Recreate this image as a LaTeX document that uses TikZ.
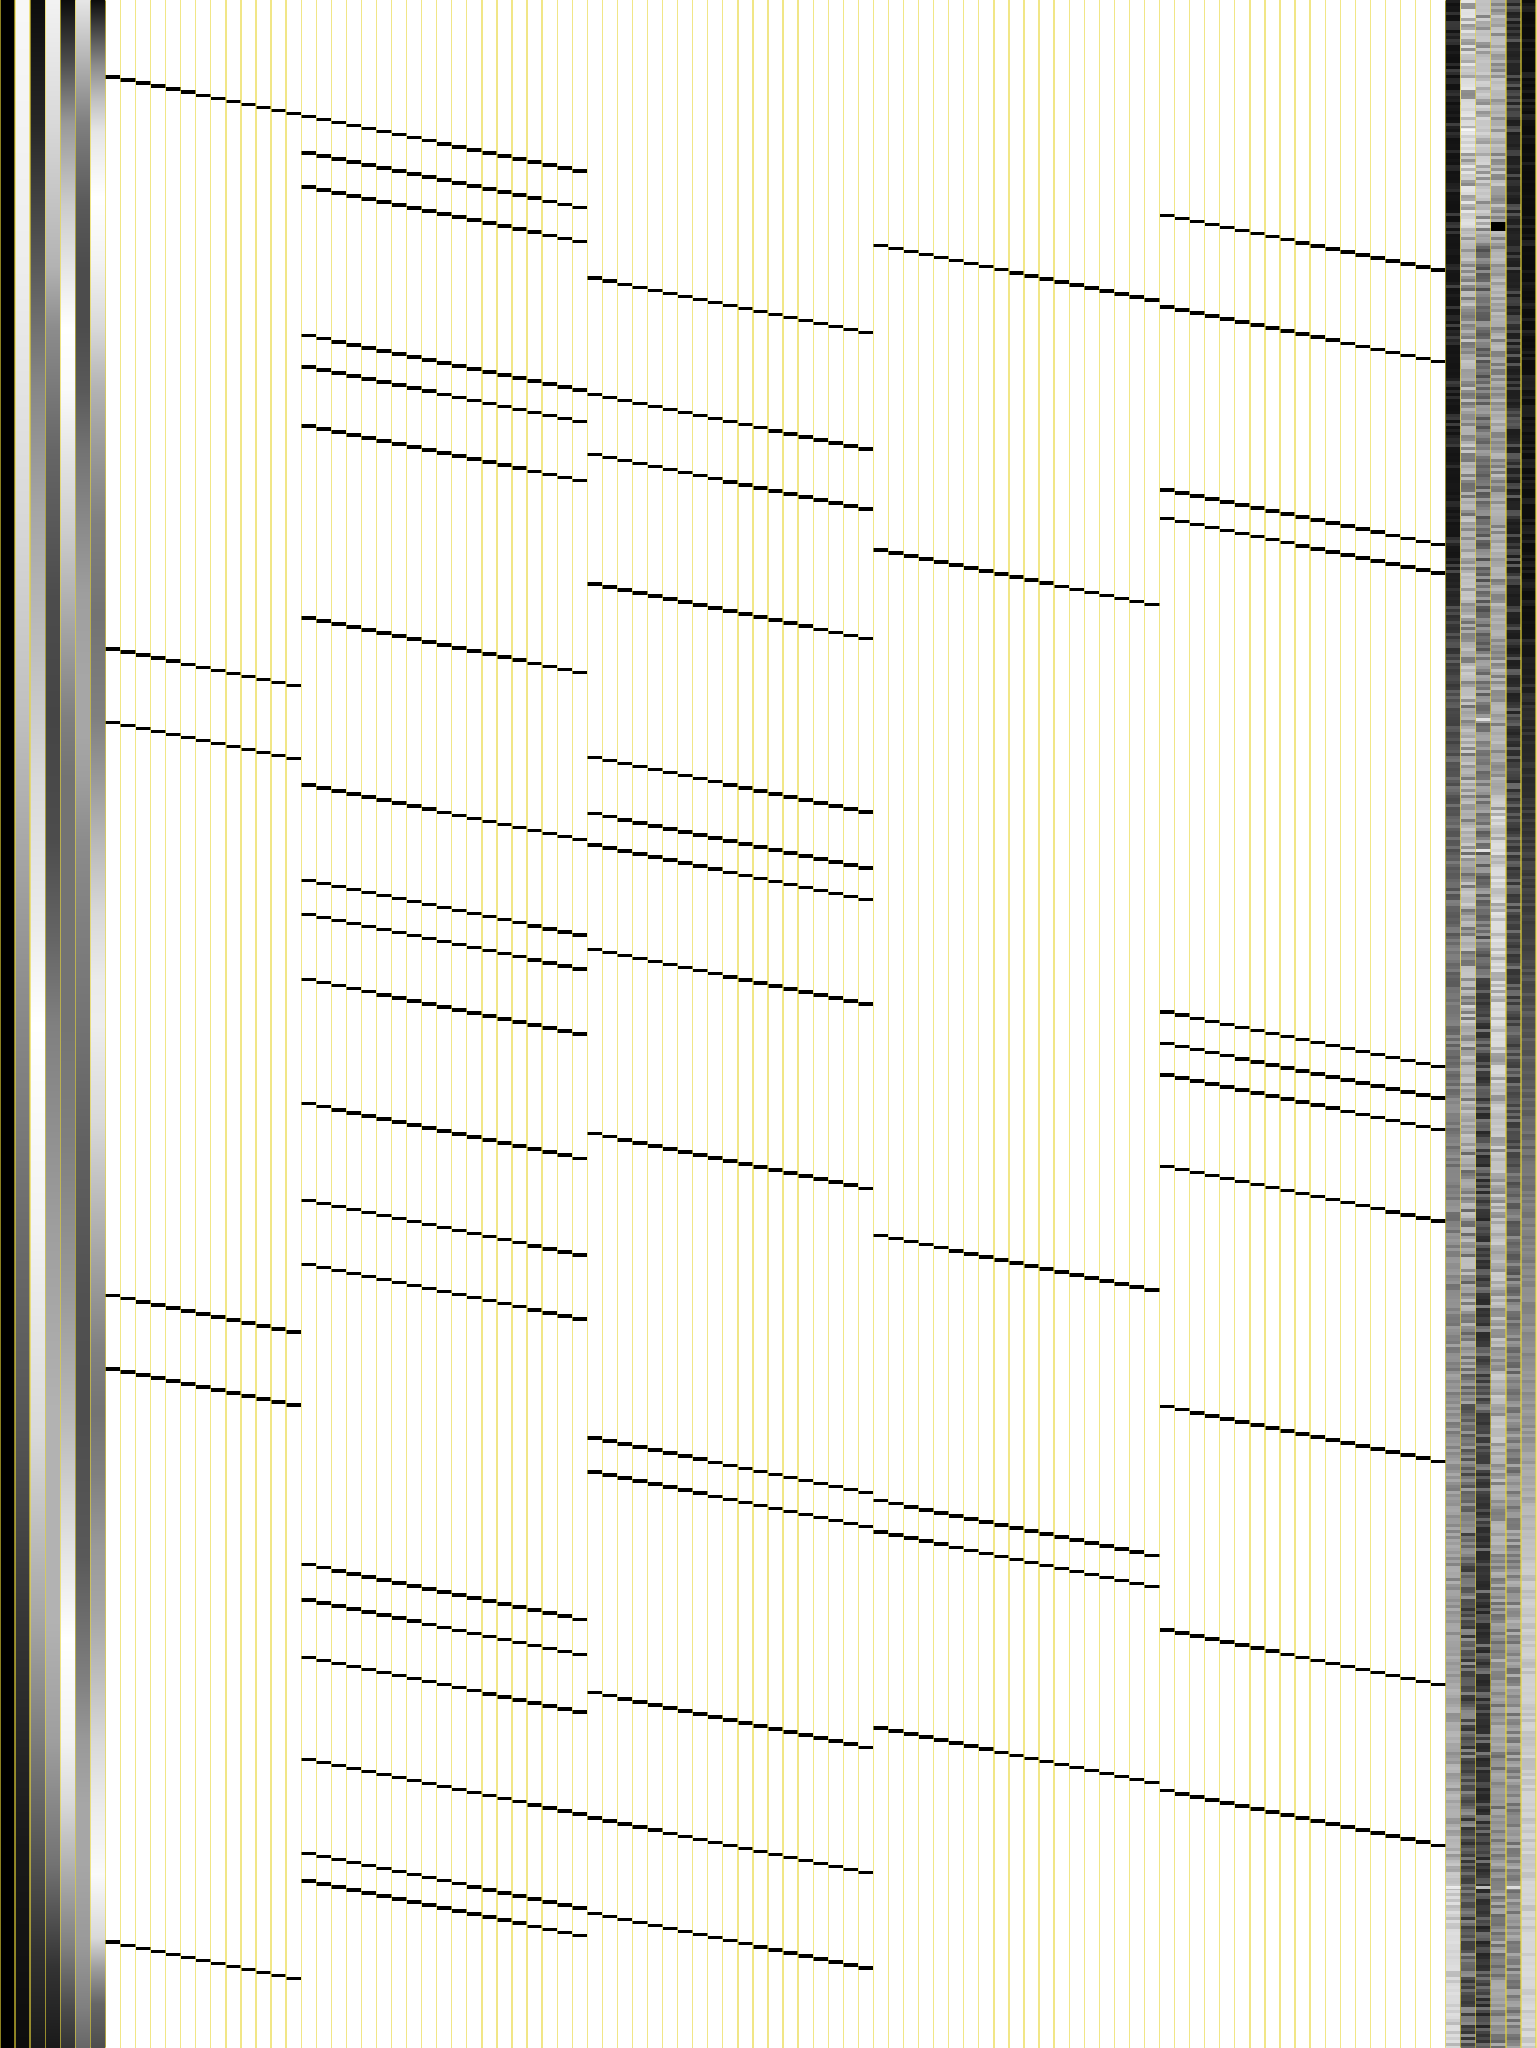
\documentclass[tikz,border=0pt]{standalone}
\usepackage{tikz}
\usetikzlibrary{calc}
\definecolor{gridyellow}{RGB}{232,214,56}
\tikzset{
    keyline/.style={gridyellow,opacity=0.6,line width=0.13mm},
    note/.style={black},
    blip/.style={white,opacity=0.7}
}
% left feature columns (top of picture = 75bp, bottom = 25bp)
\pgfdeclareverticalshading{featone}{100bp}{color(0bp)=(black!95); color(25bp)=(black!95); color(30bp)=(black!90); color(35bp)=(black!80); color(40bp)=(black!67); color(45bp)=(black!58); color(50bp)=(black!47); color(52.5bp)=(black!40); color(57.5bp)=(black!25); color(62.5bp)=(black!15); color(68.5bp)=(black!7); color(75bp)=(black!3); color(100bp)=(black!3)}
\pgfdeclareverticalshading{feattwo}{100bp}{color(0bp)=(black!90); color(25bp)=(black!90); color(27.5bp)=(black!80); color(31bp)=(black!60); color(35.5bp)=(black!35); color(40bp)=(black!15); color(45bp)=(black!5); color(50bp)=(black!0); color(52.5bp)=(black!8); color(56bp)=(black!15); color(59bp)=(black!25); color(62.5bp)=(black!35); color(65.5bp)=(black!47); color(68.5bp)=(black!65); color(72bp)=(black!85); color(75bp)=(black!95); color(100bp)=(black!95)}
\pgfdeclareverticalshading{featthree}{100bp}{color(0bp)=(black!90); color(25bp)=(black!90); color(27bp)=(black!80); color(29.5bp)=(black!55); color(32.5bp)=(black!38); color(35.5bp)=(black!30); color(40.5bp)=(black!30); color(45bp)=(black!38); color(50bp)=(black!50); color(52bp)=(black!60); color(54.5bp)=(black!70); color(57.5bp)=(black!73); color(60.5bp)=(black!70); color(64bp)=(black!60); color(67bp)=(black!45); color(68.5bp)=(black!30); color(72bp)=(black!15); color(75bp)=(black!5); color(100bp)=(black!5)}
\pgfdeclareverticalshading{featfour}{100bp}{color(0bp)=(black!80); color(25bp)=(black!80); color(26bp)=(black!70); color(27.5bp)=(black!50); color(29.5bp)=(black!30); color(31bp)=(black!15); color(32.5bp)=(black!5); color(35bp)=(black!0); color(37bp)=(black!10); color(40.5bp)=(black!28); color(43.5bp)=(black!40); color(47bp)=(black!50); color(50bp)=(black!55); color(56bp)=(black!55); color(57.5bp)=(black!50); color(59bp)=(black!40); color(60.5bp)=(black!30); color(62bp)=(black!20); color(64bp)=(black!10); color(65.5bp)=(black!2); color(67bp)=(black!0); color(68.5bp)=(black!10); color(70bp)=(black!20); color(72bp)=(black!40); color(73.5bp)=(black!70); color(75bp)=(black!95); color(100bp)=(black!95)}
\pgfdeclareverticalshading{featfive}{100bp}{color(0bp)=(black!60); color(25bp)=(black!60); color(26bp)=(black!50); color(27.5bp)=(black!40); color(29.5bp)=(black!35); color(31bp)=(black!35); color(32.5bp)=(black!40); color(34bp)=(black!50); color(37bp)=(black!65); color(40.5bp)=(black!70); color(43.5bp)=(black!68); color(47bp)=(black!62); color(50bp)=(black!55); color(52.5bp)=(black!50); color(54.5bp)=(black!45); color(56bp)=(black!38); color(57bp)=(black!35); color(58.5bp)=(black!35); color(60.5bp)=(black!38); color(62bp)=(black!45); color(64bp)=(black!55); color(65.5bp)=(black!65); color(67bp)=(black!70); color(68.5bp)=(black!70); color(70bp)=(black!65); color(72bp)=(black!50); color(73.5bp)=(black!30); color(75bp)=(black!10); color(100bp)=(black!10)}
\pgfdeclareverticalshading{featsix}{100bp}{color(0bp)=(black!70); color(25bp)=(black!70); color(26.1bp)=(black!60); color(26.9bp)=(black!40); color(27.7bp)=(black!15); color(29.25bp)=(black!2); color(31bp)=(black!8); color(32.5bp)=(black!15); color(34bp)=(black!25); color(35.65bp)=(black!35); color(37.25bp)=(black!40); color(39bp)=(black!50); color(40.5bp)=(black!55); color(42bp)=(black!50); color(43.6bp)=(black!40); color(45.2bp)=(black!30); color(47.6bp)=(black!15); color(50bp)=(black!7); color(51.1bp)=(black!8); color(52.7bp)=(black!15); color(54.5bp)=(black!28); color(56bp)=(black!40); color(57.5bp)=(black!50); color(60bp)=(black!55); color(62.25bp)=(black!50); color(64bp)=(black!40); color(65.5bp)=(black!30); color(67bp)=(black!15); color(68.6bp)=(black!5); color(70.2bp)=(black!0); color(71.8bp)=(black!10); color(72.6bp)=(black!25); color(73.4bp)=(black!45); color(74.2bp)=(black!70); color(75bp)=(black!95); color(100bp)=(black!95)}
% right feature columns
\pgfdeclareverticalshading{featra}{100bp}{color(0bp)=(black!15); color(25bp)=(black!15); color(29bp)=(black!15); color(29.7bp)=(black!30); color(33.5bp)=(black!35); color(43bp)=(black!45); color(49.5bp)=(black!55); color(56bp)=(black!65); color(60bp)=(black!80); color(61.5bp)=(black!90); color(75bp)=(black!92); color(100bp)=(black!92)}
\pgfdeclareverticalshading{featrb}{100bp}{color(0bp)=(black!70); color(25bp)=(black!70); color(35bp)=(black!68); color(40bp)=(black!55); color(43bp)=(black!40); color(50bp)=(black!30); color(60bp)=(black!32); color(69bp)=(black!35); color(69.5bp)=(black!15); color(75bp)=(black!15); color(100bp)=(black!15)}
\pgfdeclareverticalshading{featrc}{100bp}{color(0bp)=(black!80); color(25bp)=(black!80); color(36.5bp)=(black!78); color(40bp)=(black!70); color(45bp)=(black!78); color(50bp)=(black!75); color(52.5bp)=(black!55); color(55bp)=(black!50); color(58.5bp)=(black!50); color(60bp)=(black!55); color(69bp)=(black!55); color(69.5bp)=(black!25); color(75bp)=(black!25); color(100bp)=(black!25)}
\pgfdeclareverticalshading{featrd}{100bp}{color(0bp)=(black!45); color(25bp)=(black!45); color(36.5bp)=(black!40); color(40bp)=(black!28); color(47.5bp)=(black!25); color(50bp)=(black!15); color(55bp)=(black!15); color(56bp)=(black!35); color(69.5bp)=(black!35); color(70bp)=(black!30); color(75bp)=(black!30); color(100bp)=(black!30)}
\pgfdeclareverticalshading{featre}{100bp}{color(0bp)=(black!45); color(25bp)=(black!45); color(36.5bp)=(black!40); color(41.5bp)=(black!50); color(45bp)=(black!60); color(47.5bp)=(black!70); color(55bp)=(black!75); color(59bp)=(black!85); color(75bp)=(black!85); color(100bp)=(black!85)}
\pgfdeclareverticalshading{featrf}{100bp}{color(0bp)=(black!15); color(25bp)=(black!15); color(36.5bp)=(black!20); color(40bp)=(black!40); color(45bp)=(black!50); color(47.5bp)=(black!60); color(52.5bp)=(black!75); color(57.5bp)=(black!85); color(60bp)=(black!94); color(75bp)=(black!95); color(100bp)=(black!95)}

\begin{document}
\begin{tikzpicture}[x=0.1mm,y=-0.1mm]
\def\colw{15.0588}
\useasboundingbox (0,0) rectangle (1536,2048);
\fill[white] (0,0) rectangle (1536,2048);
% left columns
\fill[black] (0,0) rectangle (\colw,2048);
\foreach \c/\s in {1/featone,2/feattwo,3/featthree,4/featfour,5/featfive,6/featsix}
  \shade[shading=\s] (\c*\colw,0) rectangle ({(\c+1)*\colw},2048);
% right columns, with row noise
\foreach \c/\s in {96/featra,97/featrb,98/featrc,99/featrd,100/featre,101/featrf}
  \shade[shading=\s] (\c*\colw,0) rectangle ({(\c+1)*\colw},2048);
\pgfmathsetseed{42}
\foreach \c/\amp in {96/0.18,97/0.38,98/0.33,99/0.28,100/0.26,101/0.1}{
  \foreach \r in {0,...,682}{
    \pgfmathsetmacro{\nz}{rand}
    \pgfmathsetmacro{\op}{\amp*abs(\nz)}
    \ifdim\nz pt>0pt \def\nc{white}\else\def\nc{black}\fi
    \fill[\nc,opacity=\op] (\c*\colw,\r*3) rectangle ({(\c+1)*\colw},\r*3+3);
  }
}
\fill[black] (99*\colw,222) rectangle (100*\colw,231);
\foreach \c/\y in {96/1886,98/1886,100/1886,98/849,98/718,97/128}
  \fill[blip] (\c*\colw,\y) rectangle ++(\colw,3);
% notes
\foreach \k in {7,...,38}
  \fill[note] (\k*\colw,{77.1+(\k-7)*3.03-1.75}) rectangle ++(\colw,3.5);
\foreach \y in {649.1,722.3,1295.7,1368.8,1942.2}
  \foreach \k in {7,...,19}
    \fill[note] (\k*\colw,{\y+(\k-7)*3.03-1.75}) rectangle ++(\colw,3.5);
\foreach \y in {152.8,186.8,335.7,367.0,425.8,617.8,785.0,880.3,914.3,979.6,1103.7,1200.3,1264.3,1564.7,1600.0,1657.4,1759.3,1853.4,1880.8}
  \foreach \k in {20,...,38}
    \fill[note] (\k*\colw,{\y+(\k-20)*3.03-1.75}) rectangle ++(\colw,3.5);
\foreach \y in {278.2,394.4,454.5,583.8,757.5,813.7,845.0,949.5,1133.7,1438.0,1472.0,1692.7,1818.1,1913.4}
  \foreach \k in {39,...,57}
    \fill[note] (\k*\colw,{\y+(\k-39)*3.03-1.75}) rectangle ++(\colw,3.5);
\foreach \y in {245.5,549.9,1235.6,1500.7,1532.1,1728.0}
  \foreach \k in {58,...,76}
    \fill[note] (\k*\colw,{\y+(\k-58)*3.03-1.75}) rectangle ++(\colw,3.5);
\foreach \y in {215.5,306.9,489.8,518.5,1012.2,1043.6,1074.9,1166.3,1406.7,1630.0,1790.7}
  \foreach \k in {77,...,95}
    \fill[note] (\k*\colw,{\y+(\k-77)*3.03-1.75}) rectangle ++(\colw,3.5);
% column separators
\foreach \k in {0,...,102}
  \draw[keyline] (\k*\colw,0) -- (\k*\colw,2048);
\end{tikzpicture}
\end{document}
